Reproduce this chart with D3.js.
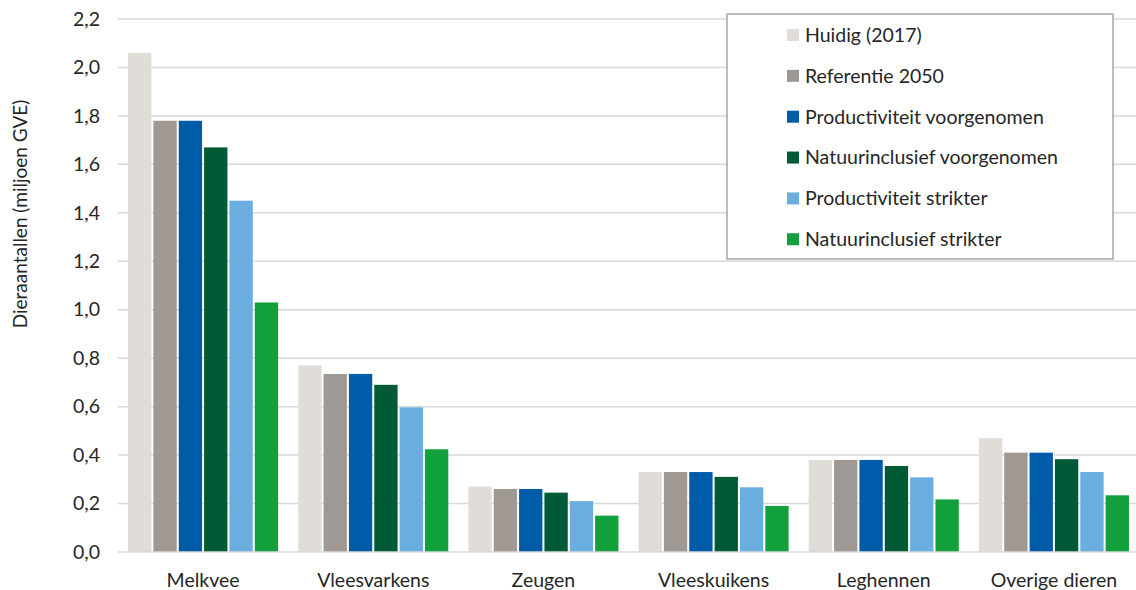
<!DOCTYPE html>
<html><head><meta charset="utf-8">
<script src="https://cdn.jsdelivr.net/npm/d3@7"></script>
<style>body{margin:0;background:#fff;} svg{display:block;}</style>
</head><body>
<svg id="chart" width="1136" height="590"></svg>
<script>
const categories = ["Melkvee","Vleesvarkens","Zeugen","Vleeskuikens","Leghennen","Overige dieren"];
const seriesNames = ["Huidig (2017)","Referentie 2050","Productiviteit voorgenomen","Natuurinclusief voorgenomen","Productiviteit strikter","Natuurinclusief strikter"];
const huidig = [2.06, 0.77, 0.27, 0.33, 0.38, 0.47];
const referentie = [1.78, 0.735, 0.26, 0.33, 0.38, 0.41];
const prodVoor = [1.78, 0.735, 0.26, 0.33, 0.38, 0.41];
const natVoor = [1.67, 0.69, 0.245, 0.31, 0.355, 0.383];
const prodStrikt = [1.45, 0.597, 0.21, 0.267, 0.308, 0.33];
const natStrikt = [1.03, 0.424, 0.15, 0.19, 0.217, 0.234];
const yTicks = [0,0.2,0.4,0.6,0.8,1.0,1.2,1.4,1.6,1.8,2.0,2.2];
const colors = ["#e0dcd8","#a09893","#005ca8","#005a35","#6aaee0","#12a03c"];
const seriesValues = [huidig, referentie, prodVoor, natVoor, prodStrikt, natStrikt];

const svg = d3.select("#chart");
const font = "Lato, 'Open Sans', sans-serif";
const mLeft = 118, mRight = 1139, mTop = 19, mBottom = 552;

const y = d3.scaleLinear().domain([0, 2.2]).range([mBottom, mTop]);
const x0 = d3.scaleBand().domain(categories).range([mLeft, mRight]).padding(0);
const groupW = x0.bandwidth() * 0.882;
const x1 = d3.scaleBand().domain(seriesNames).range([0, groupW]).paddingInner(0.08).paddingOuter(0);

// gridlines
svg.append("g").selectAll("line").data(yTicks.filter(d => d > 0)).join("line")
  .attr("x1", mLeft).attr("x2", 1136)
  .attr("y1", d => y(d)).attr("y2", d => y(d))
  .attr("stroke", "#d9d9d9").attr("stroke-width", 1.5);

// y axis labels
const yAxis = d3.axisLeft(y).tickValues(yTicks).tickSize(0).tickPadding(0)
  .tickFormat(d => d3.format(".1f")(d).replace(".", ","));
const ya = svg.append("g").attr("transform", `translate(100,0)`).call(yAxis);
ya.select(".domain").remove();
ya.selectAll("text").attr("font-family", font).attr("font-size", 19.5).attr("fill", "#262626");

// bars
const groups = svg.append("g").selectAll("g").data(categories).join("g")
  .attr("transform", c => `translate(${x0(c) + (x0.bandwidth() - groupW) / 2},0)`);
groups.selectAll("rect").data((c, i) => seriesNames.map((s, j) => ({s, j, v: seriesValues[j][i]}))).join("rect")
  .attr("x", d => x1(d.s)).attr("width", x1.bandwidth())
  .attr("y", d => y(d.v)).attr("height", d => y(0) - y(d.v))
  .attr("fill", d => colors[d.j]);

// baseline
svg.append("line").attr("x1", mLeft).attr("x2", 1136).attr("y1", y(0)).attr("y2", y(0))
  .attr("stroke", "#d9d9d9").attr("stroke-width", 1.5);

// x axis labels
const xAxis = d3.axisBottom(x0).tickSize(0).tickPadding(0);
const xa = svg.append("g").attr("transform", `translate(0,${mBottom + 21})`).call(xAxis);
xa.select(".domain").remove();
xa.selectAll("text").attr("font-family", font).attr("font-size", 19.5).attr("fill", "#262626");

// y title
svg.append("text").attr("transform", "translate(27,214) rotate(-90)")
  .attr("text-anchor", "middle").attr("font-family", font).attr("font-size", 19).attr("fill", "#262626")
  .text("Dieraantallen (miljoen GVE)");

// legend
const lg = svg.append("g");
lg.append("rect").attr("x", 727).attr("y", 14).attr("width", 386).attr("height", 245)
  .attr("fill", "#fff").attr("stroke", "#a6a6a6").attr("stroke-width", 1.5);
const items = lg.selectAll("g.item").data(seriesNames).join("g").attr("class", "item")
  .attr("transform", (d, i) => `translate(787,${35 + i * 40.85})`);
items.append("rect").attr("x", 0).attr("y", -6).attr("width", 12).attr("height", 12)
  .attr("fill", (d, i) => colors[i]);
items.append("text").attr("x", 18).attr("y", 0).attr("dy", "0.35em")
  .attr("font-family", font).attr("font-size", 19.5).attr("fill", "#262626").text(d => d);
</script>
</body></html>
